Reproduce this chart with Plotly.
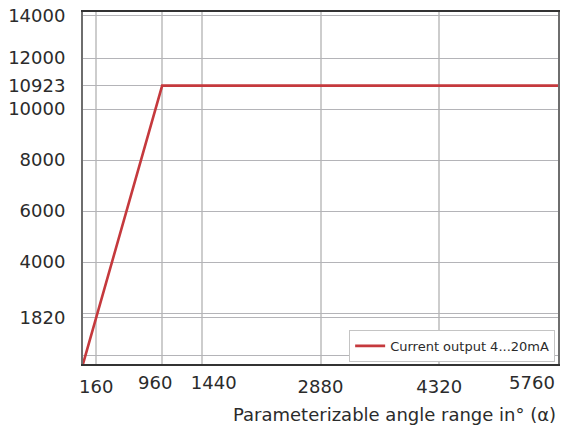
import plotly.graph_objects as go

# Data
angle = [0, 960, 5760]
resolution = [0, 10923, 10923]
series_name = "Current output 4...20mA"

x_tickvals = [160, 960, 1440, 2880, 4320, 5760]
x_ticklabels = ["160", "960", "1440", "2880", "4320", "5760"]

y_tickvals = [350, 1820, 2000, 4000, 6000, 8000, 10000, 10923, 12000, 13670]
y_ticklabels = ["", "1820", "", "4000", "6000", "8000", "10000", "10923", "12000", "14000"]

x_title = "Parameterizable angle range in° (α)"

FONT = "DejaVu Sans"
TXT = "#2b2b2b"
X_RANGE = [0, 5760]

# labels that sit off-centre from their gridline in the reference (pixel shift)
label_shift = {"960": -7, "1440": 12, "5760": -26}

fig = go.Figure()
fig.add_trace(go.Scatter(
    x=angle, y=resolution, mode="lines", name=series_name,
    line=dict(color="#c5393d", width=2.6),
))

main_text = ["" if t in label_shift else t for t in x_ticklabels]

layout = dict(
    width=562, height=428,
    margin=dict(l=83, r=4, t=12, b=64, autoexpand=False),
    paper_bgcolor="white", plot_bgcolor="white",
    font=dict(family=FONT, size=18, color=TXT),
    showlegend=True,
    legend=dict(
        x=0.994, y=0.006, xanchor="right", yanchor="bottom",
        bgcolor="white", bordercolor="#c4c4c4", borderwidth=1,
        font=dict(family=FONT, size=13, color=TXT),
        itemwidth=30, tracegroupgap=0,
    ),
    xaxis=dict(
        range=X_RANGE, tickmode="array", tickvals=x_tickvals, ticktext=main_text,
        tickangle=0, automargin=False, ticklabeloverflow="allow",
        showgrid=True, gridcolor="#cdcdcd", gridwidth=1.6,
        showline=True, linecolor="#333333", linewidth=1.6, mirror=True,
        ticks="", ticklabelstandoff=6, zeroline=False,
        tickfont=dict(family=FONT, size=18, color=TXT),
    ),
    yaxis=dict(
        range=[0, 13810], tickmode="array", tickvals=y_tickvals, ticktext=y_ticklabels,
        automargin=False,
        showgrid=True, gridcolor="#b4b4b8", gridwidth=1.2,
        showline=True, linecolor="#6e6e6e", linewidth=2, mirror=True,
        ticks="", ticklabelstandoff=12, zeroline=False,
        tickfont=dict(family=FONT, size=18, color=TXT),
    ),
    annotations=[dict(
        text=x_title, xref="paper", yref="paper", x=1.0, y=0,
        xanchor="right", yanchor="top", yshift=-38, showarrow=False,
        font=dict(family=FONT, size=18, color=TXT),
    )],
)

# extra overlaid x axes carrying the shifted labels
k = 2
for v, t in zip(x_tickvals, x_ticklabels):
    if t in label_shift:
        layout[f"xaxis{k}"] = dict(
            overlaying="x", anchor="y", side="bottom", range=X_RANGE,
            tickmode="array", tickvals=[v], ticktext=[t], tickangle=0,
            ticklabelshift=label_shift[t], ticklabelstandoff=6, ticklabeloverflow="allow",
            automargin=False, showgrid=False, showline=False, zeroline=False, ticks="",
            tickfont=dict(family=FONT, size=18, color=TXT),
        )
        fig.add_trace(go.Scatter(x=[v], y=[None], xaxis=f"x{k}", yaxis="y",
                                 showlegend=False, hoverinfo="skip", mode="lines"))
        k += 1

fig.update_layout(**layout)

fig.write_html("out.html", config={"displayModeBar": False},
               post_script="document.body.style.margin='0px';")
